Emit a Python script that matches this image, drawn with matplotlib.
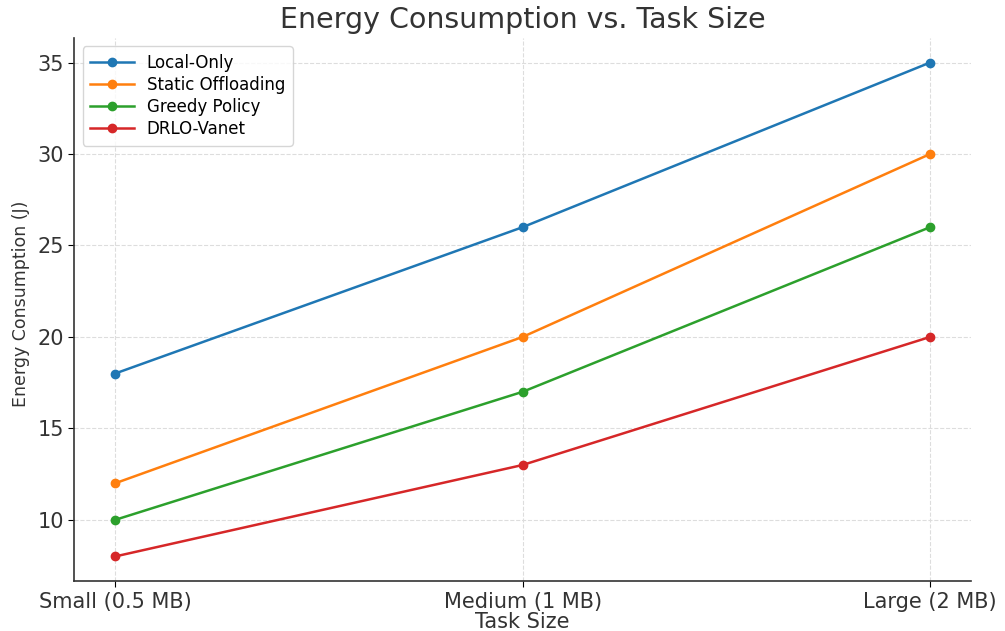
import matplotlib.pyplot as plt

# task sizes and energy per strategy
task_sizes = ['Small (0.5 MB)', 'Medium (1 MB)', 'Large (2 MB)']
local_only = [18, 26, 35]
static_offloading = [12, 20, 30]
greedy_policy = [10, 17, 26]
drlo_vanet = [8, 13, 20]

fig, ax = plt.subplots(figsize=(10.05, 6.31), dpi=100)

ax.plot(task_sizes, local_only, marker='o', linewidth=1.8, markersize=6, label='Local-Only')
ax.plot(task_sizes, static_offloading, marker='o', linewidth=1.8, markersize=6, label='Static Offloading')
ax.plot(task_sizes, greedy_policy, marker='o', linewidth=1.8, markersize=6, label='Greedy Policy')
ax.plot(task_sizes, drlo_vanet, marker='o', linewidth=1.8, markersize=6, label='DRLO-Vanet')

ax.set_title('Energy Consumption vs. Task Size', fontsize=20.5, color='#333333', pad=7)
ax.set_xlabel('Task Size', fontsize=15, color='#333333', labelpad=0)
ax.set_ylabel('Energy Consumption (J)', fontsize=12.5, color='#333333')
ax.yaxis.set_label_coords(-0.05, 0.51)
ax.tick_params(labelsize=15, labelcolor='#333333', length=4)

ax.grid(True, linestyle='--', color='#dddddd', linewidth=0.8)
ax.spines['top'].set_visible(False)
ax.spines['right'].set_visible(False)
for s in ['left', 'bottom']:
    ax.spines[s].set_color('#333333')
    ax.spines[s].set_linewidth(1.2)

ax.legend(loc='upper left', fontsize=12, handlelength=2.6, labelspacing=0.25,
          borderpad=0.45)

fig.subplots_adjust(left=0.074, right=0.966, bottom=0.079, top=0.94)
fig.savefig('out.png', dpi=100)
